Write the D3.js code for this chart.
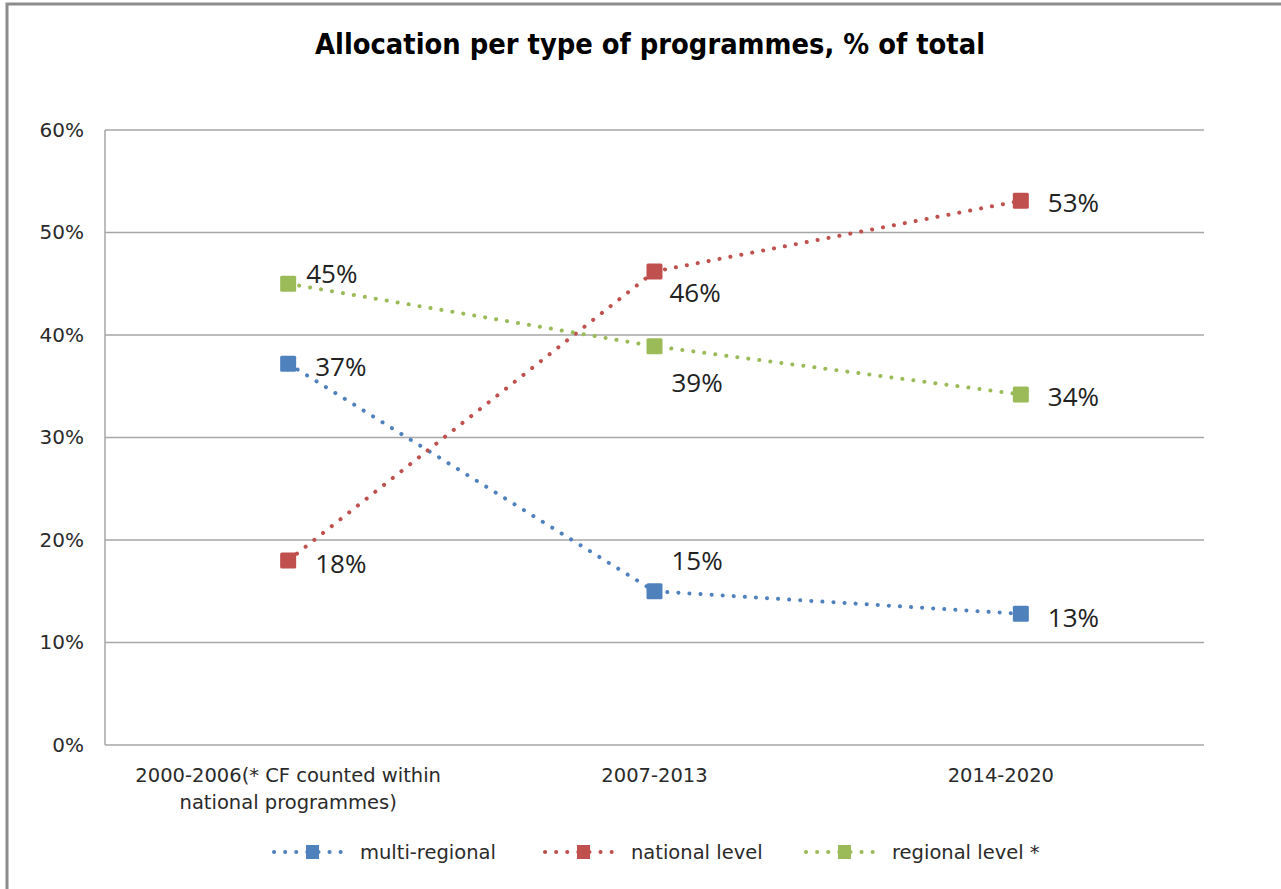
<!DOCTYPE html>
<html><head><meta charset="utf-8">
<script src="https://cdn.jsdelivr.net/npm/d3@7"></script>
<style>body{margin:0;background:#fff}svg{display:block}</style>
</head><body>
<script>
const categories = ["2000-2006(* CF counted within|national programmes)", "2007-2013", "2014-2020"];
const seriesNames = ["multi-regional", "national level", "regional level *"];
const multiRegional = [37.2, 15.0, 12.8];
const nationalLevel = [18.0, 46.2, 53.1];
const regionalLevel = [45.0, 38.9, 34.2];
const yTicks = [0, 10, 20, 30, 40, 50, 60];
const colors = ["#4F81BD", "#C0504D", "#9BBB59"];
// label offsets [dx, dy] per point (layout only)
const labelOffsets = [
  [[27, 2], [17, -31], [27, 3]],
  [[27, 2], [15, 21], [27, 1]],
  [[18, -11], [17, 36], [27, 2]]
];

const W = 1281, H = 889;
const svg = d3.select("body").append("svg").attr("width", W).attr("height", H);
svg.append("rect").attr("x", 7).attr("y", 4).attr("width", W + 20).attr("height", H + 20)
  .attr("fill", "#fff").attr("stroke", "#8c8c8c").attr("stroke-width", 3);

const m = {l: 105, r: 1204, t: 130, b: 745};
const x = d3.scaleBand().domain(categories).range([m.l, m.r]);
const y = d3.scaleLinear().domain([0, 60]).range([m.b, m.t]);

svg.append("text").attr("x", 650).attr("y", 54).attr("text-anchor", "middle")
  .attr("font-family", "DejaVu Sans Condensed, DejaVu Sans").attr("font-weight", "bold")
  .attr("font-size", 28).attr("fill", "#000")
  .attr("textLength", 670).attr("lengthAdjust", "spacingAndGlyphs")
  .text("Allocation per type of programmes, % of total");

// gridlines
svg.append("g").selectAll("line").data(yTicks).join("line")
  .attr("x1", m.l).attr("x2", m.r).attr("y1", d => y(d)).attr("y2", d => y(d))
  .attr("stroke", "#a6a6a6").attr("stroke-width", 1.5);
svg.append("line").attr("x1", m.l).attr("x2", m.l).attr("y1", m.t).attr("y2", m.b)
  .attr("stroke", "#a6a6a6").attr("stroke-width", 1.5);

const yAxis = d3.axisLeft(y).tickValues(yTicks).tickFormat(d => d + "%").tickSize(0).tickPadding(21);
const ga = svg.append("g").attr("transform", `translate(${m.l},0)`).call(yAxis);
ga.select(".domain").remove();
ga.selectAll("text").attr("font-family", "DejaVu Sans").attr("font-size", 20).attr("fill", "#2a2a2a");

// x labels
const xg = svg.append("g");
categories.forEach((c, i) => {
  const lines = c.split("|");
  const cx = x(c) + x.bandwidth() / 2 + (i === 2 ? -20 : 0);
  const t = xg.append("text").attr("x", cx).attr("y", 782)
    .attr("text-anchor", "middle").attr("font-family", "DejaVu Sans").attr("font-size", 19.5).attr("fill", "#2a2a2a");
  lines.forEach((l, j) => t.append("tspan").attr("x", cx).attr("dy", j ? 27 : 0).text(l));
});

const all = [multiRegional, nationalLevel, regionalLevel];
const line = d3.line().x((d, i) => x(categories[i]) + x.bandwidth() / 2).y(d => y(d));
all.forEach((vals, s) => {
  svg.append("path").attr("d", line(vals)).attr("fill", "none").attr("stroke", colors[s])
    .attr("stroke-width", 4).attr("stroke-linecap", "round").attr("stroke-dasharray", "0.1 11");
});
all.forEach((vals, s) => {
  const g = svg.append("g");
  vals.forEach((v, i) => {
    const cx = x(categories[i]) + x.bandwidth() / 2, cy = y(v);
    g.append("rect").attr("x", cx - 8).attr("y", cy - 8).attr("width", 16).attr("height", 16)
      .attr("rx", 1.5).attr("fill", colors[s]);
    const off = labelOffsets[s][i];
    g.append("text").attr("x", cx + off[0]).attr("y", cy + off[1]).attr("dominant-baseline", "central")
      .attr("font-family", "Open Sans").attr("font-size", 26).attr("fill", "#222")
      .text(Math.round(v) + "%");
  });
});

// legend
const legX = [272, 543, 804];
seriesNames.forEach((n, s) => {
  const g = svg.append("g").attr("transform", `translate(${legX[s]},852)`);
  g.append("line").attr("x1", 2).attr("x2", 72).attr("y1", 0).attr("y2", 0)
    .attr("stroke", colors[s]).attr("stroke-width", 4).attr("stroke-linecap", "round").attr("stroke-dasharray", "0.1 11");
  g.append("rect").attr("x", 34).attr("y", -7).attr("width", 13).attr("height", 14).attr("fill", colors[s]);
  g.append("text").attr("x", 88).attr("y", 0).attr("dominant-baseline", "central")
    .attr("font-family", "DejaVu Sans").attr("font-size", 19.5).attr("fill", "#2a2a2a").text(n);
});
</script>
</body></html>
